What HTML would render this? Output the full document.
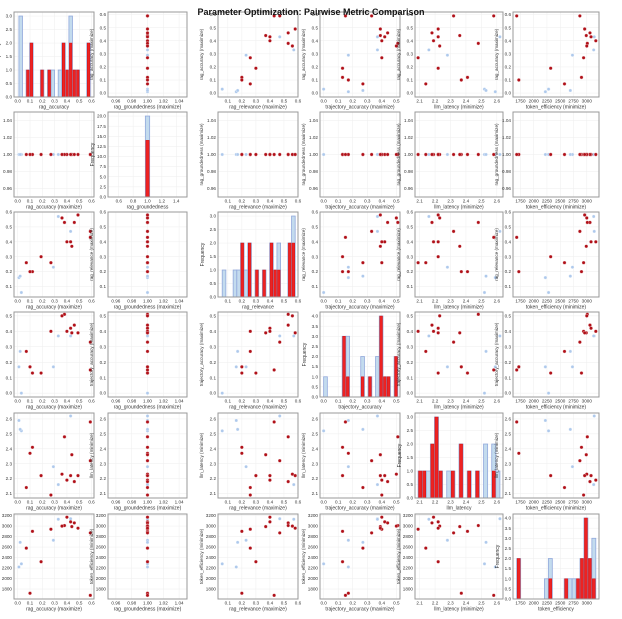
<!DOCTYPE html>
<html><head><meta charset="utf-8"><style>
body{margin:0;background:#fff;}
svg{display:block;font-family:"Liberation Sans",sans-serif;}
</style></head><body>
<svg id="s" width="622" height="619" viewBox="0 0 622 619"></svg>
<script>
const S=document.getElementById('s');let h='';
h+='<rect width="622" height="619" fill="#fff"/>';
const D=[
[0.12,0.20,0.13,2.41,2.9e3,1],[0.10,0.20,0.17,2.37,1720,1],[0.27,0.26,0.40,2.09,2940,1],[0.07,0.26,0.27,2.14,2580,1],
[0.19,0.30,0.13,2.22,2320,1],[0.44,0.37,0.39,2.36,2990,1],[0.43,0.40,0.42,2.22,3080,1],[0.40,0.40,0.40,2.19,3170,1],
[0.59,0.43,0.15,2.58,1680,1],[0.59,0.47,0.33,2.32,2870,1],[0.46,0.53,0.44,2.18,3060,1],[0.38,0.53,0.51,2.48,3010,1],
[0.36,0.56,0.50,2.23,3000,1],[0.49,0.58,0.39,2.22,2960,1],
[0.03,0.06,0.00,2.52,2280,0],[0.01,0.16,0.17,2.59,2220,0],[0.29,0.23,0.17,2.28,2730,0],[0.43,0.47,0.37,2.62,3140,0],
[0.33,0.57,0.37,2.16,3130,0],[0.02,0.17,0.27,2.53,2690,0]];
const names=['rag_accuracy','rag_groundedness','rag_relevance','trajectory_accuracy','llm_latency','token_efficiency'];
const dir=['maximize','maximize','maximize','maximize','minimize','minimize'];
const val=(p,i)=>i==0?p[0]:i==1?1:i==2?p[1]:i==3?p[2]:i==4?p[3]:p[4];
const R=[[-0.03,0.62],[0.95,1.05],[0.03,0.6],[-0.025,0.525],[2.07,2.64],[1610,3230]];
const T=[[0,.1,.2,.3,.4,.5,.6],[.96,.98,1,1.02,1.04],[.1,.2,.3,.4,.5,.6],[0,.1,.2,.3,.4,.5],[2.1,2.2,2.3,2.4,2.5,2.6],[1800,2000,2200,2400,2600,2800,3000,3200]];
const TX5=[1750,2000,2250,2500,2750,3000];
const fmt=(v,i)=>{if(i==5)return String(v);if(i==1)return v.toFixed(2);return v.toFixed(1);};
const CX=[14,108,218,320,415,513],CW=[80,79,80,80,88,86],RY=[12,112,212,312,413,514],RH=85;
function panel(r,c){
 const x0=CX[c],y0=RY[r],w=CW[c],H=RH;
 h+=`<rect x="${x0}" y="${y0}" width="${w}" height="${H}" fill="#fff"/>`;
 let xr=R[c],xt=c==5?TX5:T[c];
 let yr=R[r],yt=T[r];
 if(r==c){ if(c==1){xr=[0.45,1.55];xt=[.6,.8,1,1.2,1.4];}
   const n=20,lo=Math.min(...D.map(p=>val(p,c))),hi=Math.max(...D.map(p=>val(p,c)));
   const a=c==1?0.97:lo,b=c==1?1.03:hi;
   const nn=c==1?1:n;
   const ba=new Array(nn).fill(0),br=new Array(nn).fill(0);
   D.forEach(p=>{let v=val(p,c);let k=Math.min(nn-1,Math.floor((v-a)/(b-a)*nn));ba[k]++;if(p[5])br[k]++;});
   const mx=Math.max(...ba);let ymax=c==1?21:mx*1.05;
   let step=c==1?2.5:0.5;yt=[];for(let v=0;v<=mx+1e-9;v+=step)yt.push(v);
   yr=[0,ymax];
   const X=v=>x0+(v-xr[0])/(xr[1]-xr[0])*w, Y=v=>y0+H-(v-yr[0])/(yr[1]-yr[0])*H;
   grid(x0,y0,w,H,xt,yt,X,Y);
   const bw=(X(b)-X(a))/nn;
   for(let k=0;k<nn;k++){if(ba[k])h+=`<rect x="${X(a)+k*bw}" y="${Y(ba[k])}" width="${bw}" height="${Y(0)-Y(ba[k])}" fill="#c3dbee" stroke="#92a9dc" stroke-width="0.8"/>`;}
   for(let k=0;k<nn;k++){if(br[k])h+=`<rect x="${X(a)+k*bw+0.5}" y="${Y(br[k])}" width="${bw-1}" height="${Y(0)-Y(br[k])}" fill="#ee2222" stroke="#d01010" stroke-width="0.5"/>`;}
   ticks(x0,y0,w,H,xt,yt,X,Y,c,-1);
   h+=`<text x="${x0+w/2}" y="${y0+H+11.5}" font-size="5" text-anchor="middle" fill="#333">${names[c]}</text>`;
   h+=`<text transform="translate(${x0-14},${y0+H/2}) rotate(-90)" font-size="5" text-anchor="middle" fill="#333">Frequency</text>`;
 } else {
   const X=v=>x0+(v-xr[0])/(xr[1]-xr[0])*w, Y=v=>y0+H-(v-yr[0])/(yr[1]-yr[0])*H;
   grid(x0,y0,w,H,xt,yt,X,Y);
   D.filter(p=>!p[5]).forEach(p=>h+=`<circle cx="${X(val(p,c))}" cy="${Y(val(p,r))}" r="1.6" fill="#aec9ec" stroke="#fff" stroke-width="0.3"/>`);
   D.filter(p=>p[5]).forEach(p=>h+=`<circle cx="${X(val(p,c))}" cy="${Y(val(p,r))}" r="1.7" fill="#b01018" stroke="#fff" stroke-width="0.3"/>`);
   ticks(x0,y0,w,H,xt,yt,X,Y,c,r);
   h+=`<text x="${x0+w/2}" y="${y0+H+11.5}" font-size="5" text-anchor="middle" fill="#333">${names[c]} (${dir[c]})</text>`;
   h+=`<text transform="translate(${x0-15},${y0+H/2}) rotate(-90)" font-size="4.6" text-anchor="middle" fill="#333">${names[r]} (${dir[r]})</text>`;
 }
 h+=`<rect x="${x0}" y="${y0}" width="${w}" height="${H}" fill="none" stroke="#999" stroke-width="1"/>`;
}
function grid(x0,y0,w,H,xt,yt,X,Y){
 xt.forEach(v=>{const x=X(v);if(x>=x0&&x<=x0+w)h+=`<line x1="${x}" y1="${y0}" x2="${x}" y2="${y0+H}" stroke="#eee" stroke-width="0.5"/>`;});
 yt.forEach(v=>{const y=Y(v);if(y>=y0&&y<=y0+H)h+=`<line x1="${x0}" y1="${y}" x2="${x0+w}" y2="${y}" stroke="#eee" stroke-width="0.5"/>`;});
}
function ticks(x0,y0,w,H,xt,yt,X,Y,c,r){
 xt.forEach(v=>{const x=X(v);if(x>=x0-0.5&&x<=x0+w+0.5)h+=`<text x="${x}" y="${y0+H+5.5}" font-size="4.6" text-anchor="middle" fill="#333">${c==1&&r==-1?v.toFixed(1):fmt(v,c)}</text>`;});
 yt.forEach(v=>{const y=Y(v);if(y>=y0-0.5&&y<=y0+H+0.5)h+=`<text x="${x0-2}" y="${y+1.6}" font-size="4.6" text-anchor="end" fill="#333">${r==-1?v.toFixed(1):fmt(v,r)}</text>`;});
}
for(let r=0;r<6;r++)for(let c=0;c<6;c++)panel(r,c);
h+='<text x="311" y="15" font-size="9" font-weight="bold" text-anchor="middle" fill="#111">Parameter Optimization: Pairwise Metric Comparison</text>';
S.innerHTML=h;
</script>
</body></html>
